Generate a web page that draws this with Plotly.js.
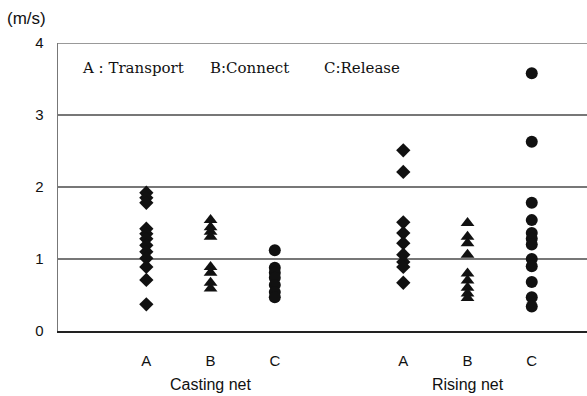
<!DOCTYPE html>
<html>
<head>
<meta charset="utf-8">
<script src="https://cdn.plot.ly/plotly-3.0.1.min.js"></script>
<style>html,body{margin:0;padding:0;background:#fff;}#chart{width:587px;height:396px;}</style>
</head>
<body>
<div id="chart"></div>
<script>
const groups = ["Casting net", "Rising net"];
const phases = ["A", "B", "C"];
const xPositions = [1, 2, 3, 5, 6, 7];
const castingA = [1.92, 1.85, 1.78, 1.42, 1.35, 1.28, 1.19, 1.10, 1.01, 0.89, 0.71, 0.37];
const castingB = [1.54, 1.44, 1.38, 1.31, 0.89, 0.81, 0.67, 0.59];
const castingC = [1.12, 0.88, 0.81, 0.74, 0.64, 0.54, 0.47];
const risingA = [2.51, 2.21, 1.51, 1.36, 1.22, 1.06, 0.96, 0.89, 0.67];
const risingB = [1.50, 1.31, 1.22, 1.06, 0.80, 0.70, 0.60, 0.52, 0.46];
const risingC = [3.58, 2.63, 1.78, 1.54, 1.36, 1.28, 1.20, 1.00, 0.90, 0.68, 0.47, 0.34];
const legendItems = ["A : Transport", "B:Connect", "C:Release"];
const yLabel = "(m/s)";

const series = [castingA, castingB, castingC, risingA, risingB, risingC];
const symbols = ["diamond", "triangle-up", "circle", "diamond", "triangle-up", "circle"];
const sizes = [11, 12, 12, 11, 12, 12];
const traces = series.map((vals, i) => ({
  type: "scatter", mode: "markers",
  x: vals.map(() => xPositions[i]), y: vals,
  marker: {symbol: symbols[i], size: sizes[i], color: "#111"},
  showlegend: false, hoverinfo: "skip"
}));

const plotLeft = 58, plotWidth = 529;
const legendStarts = [80, 208, 322];
const legendAnn = legendItems.map((t, i) => ({
  text: t, xref: "paper", yref: "paper", x: (legendStarts[i] - plotLeft) / plotWidth, y: 1.0, yshift: -25,
  xanchor: "left", yanchor: "middle", showarrow: false,
  font: {family: "DejaVu Serif, Liberation Serif, serif", size: 15}
}));

const layout = {
  width: 587, height: 396,
  margin: {l: 58, r: 0, t: 43, b: 65},
  paper_bgcolor: "#fff", plot_bgcolor: "#fff",
  font: {family: "Liberation Sans, Arial, sans-serif", size: 14, color: "#111"},
  xaxis: {
    range: [-0.375, 7.86], tickvals: xPositions, ticktext: phases.concat(phases),
    showgrid: false, zeroline: false, showline: true, linecolor: "#222", linewidth: 1.5,
    ticks: "outside", ticklen: 15, tickcolor: "rgba(0,0,0,0)", tickfont: {size: 15}, fixedrange: true
  },
  yaxis: {
    range: [0, 4], tickvals: [0, 1, 2, 3, 4], showgrid: true, gridcolor: "#777", gridwidth: 1.3,
    zeroline: false, showline: true, linecolor: "#777", linewidth: 1.3,
    ticks: "outside", ticklen: 10, tickcolor: "rgba(0,0,0,0)", tickfont: {size: 15}, fixedrange: true
  },
  shapes: [
    {type: "line", xref: "paper", yref: "y", x0: 0, x1: 1, y0: 4, y1: 4, line: {color: "#777", width: 1.5}}
  ],
  annotations: [
    {text: yLabel, xref: "paper", yref: "paper", x: -0.1, y: 1.0, yshift: 25, xanchor: "left", yanchor: "middle", showarrow: false, font: {size: 17}},
    ...legendAnn,
    {text: groups[0], xref: "x", yref: "paper", x: 2, y: 0, yshift: -53, xanchor: "center", yanchor: "middle", showarrow: false, font: {size: 16}},
    {text: groups[1], xref: "x", yref: "paper", x: 6, y: 0, yshift: -53, xanchor: "center", yanchor: "middle", showarrow: false, font: {size: 16}}
  ]
};
Plotly.newPlot("chart", traces, layout, {staticPlot: true, displayModeBar: false});
</script>
</body>
</html>
